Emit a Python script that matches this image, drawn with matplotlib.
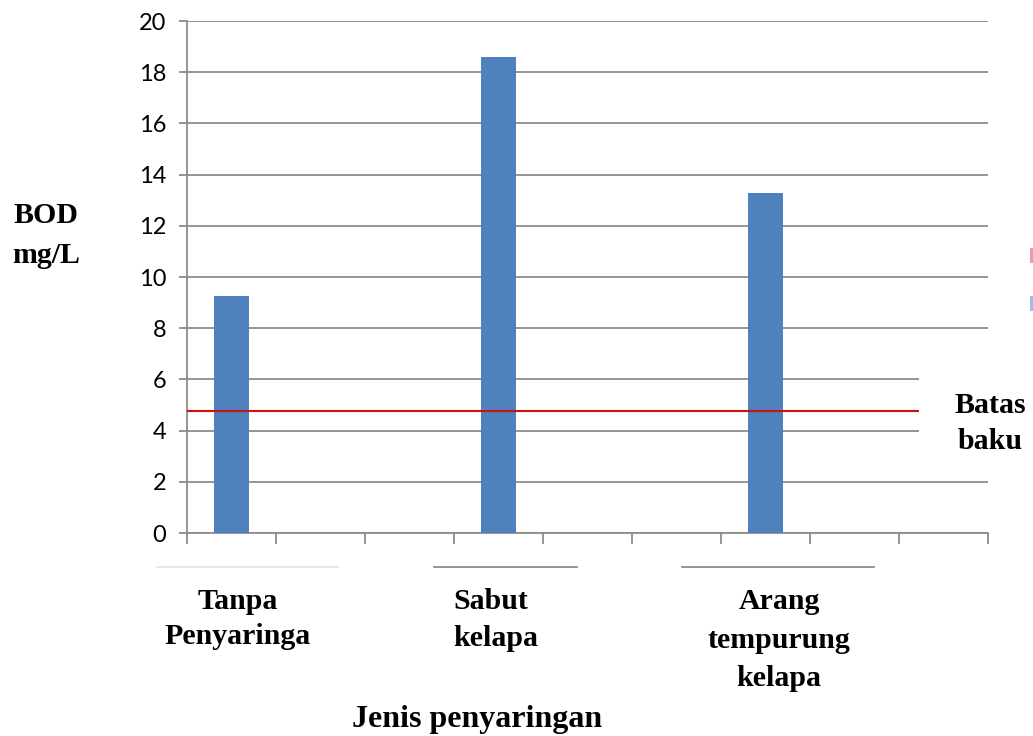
import numpy as np
import matplotlib.pyplot as plt
from matplotlib.patches import Rectangle
from matplotlib.lines import Line2D

# data
groups = ['Tanpa\nPenyaringa', 'Sabut\nkelapa', 'Arang\ntempurung\nkelapa']
bod = [9.25, 18.6, 13.3]
batas_baku = 4.75
yticks = np.arange(0, 21, 2)

W, H = 1033, 736
fig = plt.figure(figsize=(W / 100, H / 100), dpi=100)
ax = fig.add_axes([187 / W, 1 - 533 / H, (988 - 187) / W, (533 - 21) / H])

slots = 3  # each group takes three category slots on the x axis
x = np.arange(len(groups)) * slots + 0.5
ax.bar(x, bod, width=0.4, color='#4f81bd', zorder=3)
ax.axhline(batas_baku, color='#cc1111', linewidth=1.5, zorder=4)

ax.set_xlim(0, len(groups) * slots)
ax.set_ylim(0, 20)
ax.set_yticks(yticks)
ax.set_yticklabels([str(v) for v in yticks], fontsize=17, family='Lato')
ax.set_xticks(np.arange(0, len(groups) * slots + 1))
ax.set_xticklabels([])
ax.yaxis.grid(True, color='#8c8c8c', linewidth=1.3, zorder=0)
ax.set_axisbelow(True)
ax.tick_params(axis='y', length=6, width=1.3, color='#8c8c8c', pad=9)
ax.tick_params(axis='x', length=8, width=1.3, color='#8c8c8c', direction='out')
for s in ['top', 'right']:
    ax.spines[s].set_visible(False)
for s in ['left', 'bottom']:
    ax.spines[s].set_color('#8c8c8c')
    ax.spines[s].set_linewidth(1.3)

serif = dict(family='Liberation Serif', weight='bold', fontsize=21.5)

# text box covering the right end of the lower gridlines
fig.patches.append(Rectangle((919 / W, 1 - 470 / H), 114 / W, 120 / H,
                             transform=fig.transFigure, facecolor='white',
                             edgecolor='none', zorder=10))
fig.text(990 / W, 1 - 392 / H, 'Batas\nbaku', ha='center', va='top',
         linespacing=1.45, zorder=11, **serif)

# clipped legend keys at the right edge
fig.patches.append(Rectangle((1030 / W, 1 - 263 / H), 3 / W, 15 / H,
                             transform=fig.transFigure, facecolor='#e6a0a0',
                             edgecolor='none'))
fig.patches.append(Rectangle((1030 / W, 1 - 311 / H), 3 / W, 15 / H,
                             transform=fig.transFigure, facecolor='#9fbbe0',
                             edgecolor='none'))

fig.text(46 / W, 1 - 202 / H, 'BOD\nmg/L', ha='center', va='top',
         linespacing=1.6, **serif)

# category labels (text boxes with their top borders)
label_pos = [(238, 'center', 1.4), (453, 'left', 1.5), (779, 'center', 1.55)]
for (lx, ha, ls), g in zip(label_pos, groups):
    fig.text(lx / W, 1 - 588 / H, g, ha=ha, va='top', multialignment=ha,
             linespacing=ls, **serif)
for x0, x1, c in [(157, 338, '#e4e4e4'), (434, 577, '#8c8c8c'),
                  (682, 874, '#8c8c8c')]:
    fig.lines.append(Line2D([x0 / W, x1 / W], [1 - 567 / H, 1 - 567 / H],
                            transform=fig.transFigure, color=c, linewidth=1.3))

fig.text(477 / W, 1 - 727 / H, 'Jenis penyaringan', ha='center',
         va='baseline', family='Liberation Serif', weight='bold', fontsize=23)

fig.savefig('out.png', dpi=100)
